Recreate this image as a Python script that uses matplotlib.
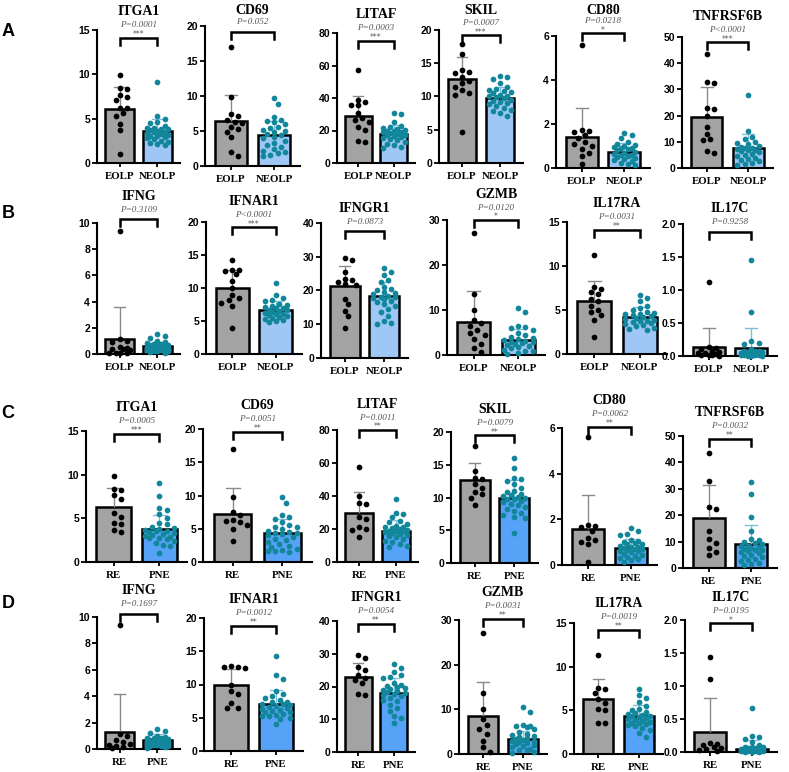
import matplotlib
matplotlib.use("Agg")
import matplotlib.pyplot as plt
import numpy as np

# ---------------- data ----------------
rowA_genes = ["ITGA1", "CD69", "LITAF", "SKIL", "CD80", "TNFRSF6B"]
rowB_genes = ["IFNG", "IFNAR1", "IFNGR1", "GZMB", "IL17RA", "IL17C"]
rowC_genes = rowA_genes
rowD_genes = rowB_genes

rowAB_groups = ["EOLP", "NEOLP"]
rowCD_groups = ["RE", "PNE"]

rowA_p = ["P=0.0001", "P=0.052", "P=0.0003", "P=0.0007", "P=0.0218", "P<0.0001"]
rowA_stars = ["***", "", "***", "***", "*", "***"]
rowB_p = ["P=0.3109", "P<0.0001", "P=0.0873", "P=0.0120", "P=0.0031", "P=0.9258"]
rowB_stars = ["", "***", "", "*", "**", ""]
rowC_p = ["P=0.0005", "P=0.0051", "P=0.0011", "P=0.0079", "P=0.0062", "P=0.0032"]
rowC_stars = ["***", "**", "**", "**", "**", "**"]
rowD_p = ["P=0.1697", "P=0.0012", "P=0.0054", "P=0.0031", "P=0.0019", "P=0.0195"]
rowD_stars = ["", "**", "**", "**", "**", "*"]

rowAC_ymax = [15, 20, 80, 20, 6, 50]
rowAC_ystep = [5, 5, 20, 5, 2, 10]
rowBD_ymax = [10, 20, 40, 30, 15, 2.0]
rowBD_ystep = [2, 5, 10, 10, 5, 0.5]

rowA_mean1 = [6.1, 6.4, 29.0, 12.7, 1.41, 19.6]
rowA_sd1 = [2.45, 3.8, 12.4, 3.2, 1.34, 11.4]
rowA_mean2 = [3.65, 4.4, 18.0, 9.75, 0.72, 7.7]
rowA_sd2 = [1.3, 2.0, 5.5, 1.75, 0.41, 5.2]

rowB_mean1 = [1.11, 10.0, 21.3, 7.4, 6.0, 0.13]
rowB_sd1 = [2.51, 2.8, 5.9, 6.9, 2.3, 0.30]
rowB_mean2 = [0.58, 6.7, 18.5, 3.4, 4.25, 0.12]
rowB_sd2 = [0.37, 1.4, 4.1, 2.4, 1.05, 0.30]

rowC_mean1 = [6.27, 7.2, 29.6, 12.6, 1.58, 19.1]
rowC_sd1 = [2.23, 3.9, 12.7, 2.6, 1.49, 12.5]
rowC_mean2 = [3.76, 4.38, 18.5, 9.9, 0.73, 9.2]
rowC_sd2 = [1.64, 2.12, 7.0, 2.7, 0.40, 7.2]

rowD_mean1 = [1.31, 9.95, 23.0, 8.4, 6.34, 0.30]
rowD_sd1 = [2.89, 2.45, 4.3, 7.8, 2.26, 0.52]
rowD_mean2 = [0.68, 7.08, 18.1, 3.4, 4.3, 0.05]
rowD_sd2 = [0.42, 2.12, 4.6, 1.8, 1.35, 0.13]

rowA_pts1 = [
    [9.9, 8.5, 8.3, 7.7, 7.4, 7.1, 6.2, 6.2, 5.6, 5.3, 4.4, 3.7, 1.0],
    [17.0, 9.8, 7.4, 7.1, 6.6, 6.3, 6.1, 5.6, 5.3, 4.9, 4.2, 2.0, 1.5],
    [57.5, 38.7, 37.5, 36.0, 35.5, 31.0, 28.0, 26.5, 25.5, 22.0, 20.5, 13.5, 13.0],
    [17.9, 16.4, 14.0, 13.7, 13.5, 13.0, 12.4, 12.0, 11.5, 11.0, 10.5, 10.3, 4.6],
    [5.6, 1.75, 1.7, 1.65, 1.5, 1.35, 1.2, 1.1, 1.0, 0.85, 0.7, 0.55, 0.2],
    [43.5, 33.0, 32.5, 23.0, 22.5, 20.0, 15.5, 13.0, 11.0, 10.5, 6.5, 5.8],
]
rowA_pts2 = [
    [9.1, 5.3, 5.0, 4.6, 4.5, 4.2, 4.0, 3.9, 3.8, 3.8, 3.7, 3.6, 3.5, 3.5, 3.4, 3.3, 3.2, 3.1, 3.0, 2.9, 2.8, 2.7, 2.5, 2.4, 2.2, 2.1, 2.0],
    [9.7, 8.9, 7.0, 6.6, 6.5, 6.3, 6.0, 5.6, 5.4, 5.2, 5.0, 4.9, 4.6, 4.4, 4.2, 4.0, 3.6, 3.3, 3.0, 2.7, 2.4, 2.2, 2.0, 1.8, 1.6, 1.5],
    [30.5, 30.0, 25.0, 23.0, 22.0, 21.5, 21.0, 20.5, 20.0, 19.5, 19.0, 18.8, 18.5, 18.0, 17.5, 17.0, 16.5, 16.0, 15.5, 15.0, 14.0, 13.0, 12.0, 11.0, 10.0, 9.0],
    [13.1, 13.0, 12.6, 12.0, 11.5, 11.2, 11.0, 10.8, 10.7, 10.5, 10.3, 10.1, 10.0, 9.9, 9.7, 9.5, 9.3, 9.2, 9.0, 8.8, 8.6, 8.3, 8.0, 7.8, 7.5, 7.0],
    [1.6, 1.5, 1.35, 1.2, 1.1, 1.05, 1.0, 0.95, 0.9, 0.9, 0.85, 0.8, 0.75, 0.7, 0.65, 0.6, 0.6, 0.55, 0.5, 0.45, 0.4, 0.35, 0.3, 0.25, 0.2, 0.15],
    [27.8, 14.0, 12.0, 11.0, 10.0, 9.5, 9.0, 8.5, 8.0, 7.8, 7.5, 7.2, 7.0, 6.8, 6.5, 6.0, 5.5, 5.0, 4.5, 4.0, 3.5, 3.0, 2.5, 2.0, 1.5, 1.0],
]
rowB_pts1 = [
    [9.4, 1.15, 1.0, 0.95, 0.5, 0.45, 0.4, 0.35, 0.3, 0.1, 0.1, 0.05, 0.05],
    [14.3, 12.8, 12.7, 12.6, 12.1, 11.0, 10.0, 9.0, 8.5, 8.2, 7.8, 7.2, 4.0],
    [29.5, 28.9, 25.5, 23.5, 23.0, 22.5, 22.0, 21.5, 17.5, 16.0, 14.0, 12.5, 9.0],
    [27.2, 13.6, 10.0, 7.8, 7.2, 6.5, 5.5, 5.0, 4.5, 3.5, 2.5, 1.5, 0.7],
    [11.3, 7.6, 7.4, 7.0, 6.8, 6.3, 6.0, 5.5, 5.0, 4.8, 4.4, 3.9, 1.9],
    [1.12, 0.13, 0.12, 0.1, 0.08, 0.06, 0.05, 0.04, 0.03, 0.02, 0.02, 0.01, 0.0],
]
rowB_pts2 = [
    [1.55, 1.4, 1.2, 1.0, 0.9, 0.85, 0.8, 0.75, 0.7, 0.65, 0.6, 0.6, 0.55, 0.5, 0.5, 0.45, 0.4, 0.4, 0.35, 0.3, 0.3, 0.25, 0.2, 0.2, 0.15, 0.1],
    [10.8, 9.0, 8.5, 8.2, 8.0, 7.6, 7.4, 7.3, 7.1, 7.0, 6.9, 6.7, 6.6, 6.5, 6.3, 6.2, 6.1, 6.0, 5.9, 5.8, 5.6, 5.4, 5.3, 5.2, 5.0, 4.8],
    [26.8, 25.5, 24.5, 23.0, 22.5, 21.0, 20.5, 20.0, 19.5, 19.2, 19.0, 18.5, 18.2, 18.0, 17.8, 17.5, 17.0, 16.5, 16.0, 15.5, 14.5, 13.5, 12.5, 11.0, 10.5, 10.2],
    [10.5, 9.5, 6.5, 6.3, 6.0, 5.5, 5.0, 4.5, 4.0, 3.8, 3.5, 3.3, 3.2, 3.0, 2.8, 2.7, 2.5, 2.2, 2.0, 1.8, 1.5, 1.2, 1.0, 0.8, 0.5, 0.3],
    [6.7, 6.4, 6.0, 5.5, 5.2, 5.0, 4.8, 4.7, 4.6, 4.5, 4.4, 4.3, 4.2, 4.1, 4.0, 3.9, 3.8, 3.7, 3.6, 3.5, 3.4, 3.3, 3.2, 3.0, 2.8, 2.7],
    [1.45, 0.66, 0.22, 0.2, 0.18, 0.1, 0.08, 0.08, 0.07, 0.06, 0.06, 0.05, 0.05, 0.04, 0.04, 0.03, 0.03, 0.02, 0.02, 0.02, 0.01, 0.01, 0.01, 0.0, 0.0, 0.0],
]
rowC_pts1 = [
    [9.9, 8.4, 8.3, 7.7, 7.2, 5.6, 5.1, 4.5, 4.3, 3.7, 3.4],
    [17.0, 9.8, 7.5, 7.0, 6.3, 6.2, 6.0, 5.5, 5.0, 3.2],
    [57.5, 40.0, 35.5, 35.0, 27.0, 26.0, 21.0, 20.0, 19.5, 15.0],
    [17.8, 14.1, 13.0, 12.8, 12.0, 11.5, 10.8, 10.5, 10.0, 8.8],
    [5.6, 1.75, 1.7, 1.65, 1.5, 1.2, 1.1, 1.0, 0.9, 0.15],
    [43.5, 33.0, 23.0, 22.5, 14.0, 11.0, 9.5, 7.5, 6.0, 4.8],
]
rowC_pts2 = [
    [9.1, 7.6, 6.2, 6.0, 5.5, 5.0, 4.5, 4.3, 4.0, 3.9, 3.8, 3.7, 3.6, 3.5, 3.4, 3.3, 3.2, 3.1, 3.0, 2.9, 2.8, 2.7, 2.6, 2.4, 2.2, 2.0, 1.8, 1.0],
    [9.7, 8.9, 7.0, 6.7, 6.5, 6.0, 5.6, 5.3, 5.2, 5.0, 4.7, 4.5, 4.4, 4.3, 4.2, 4.0, 3.7, 3.5, 3.3, 3.0, 2.7, 2.4, 2.2, 2.0, 1.8, 1.7, 1.6, 1.5],
    [38.0, 30.0, 29.0, 27.0, 25.0, 24.0, 23.0, 22.0, 21.5, 21.0, 20.5, 20.0, 19.5, 19.0, 18.8, 18.5, 18.0, 17.5, 17.0, 16.5, 16.0, 15.0, 14.0, 13.0, 12.0, 11.0, 10.0, 9.0],
    [16.0, 14.5, 13.0, 12.8, 12.5, 12.0, 11.5, 11.0, 10.8, 10.5, 10.4, 10.2, 10.1, 10.0, 9.8, 9.7, 9.5, 9.3, 9.0, 8.8, 8.5, 8.2, 8.0, 7.7, 7.4, 7.0, 6.8, 4.6],
    [1.6, 1.5, 1.35, 1.3, 1.1, 1.05, 1.0, 0.95, 0.9, 0.9, 0.85, 0.8, 0.8, 0.75, 0.7, 0.7, 0.65, 0.6, 0.6, 0.55, 0.5, 0.45, 0.4, 0.35, 0.3, 0.25, 0.2, 0.15],
    [32.5, 28.0, 19.5, 14.0, 11.0, 10.5, 10.0, 9.5, 9.0, 8.5, 8.2, 8.0, 7.5, 7.2, 7.0, 6.8, 6.5, 6.0, 5.5, 5.0, 4.5, 4.0, 3.5, 3.0, 2.5, 2.0, 1.5, 1.0],
]
rowD_pts1 = [
    [9.4, 1.1, 1.0, 0.65, 0.5, 0.35, 0.3, 0.2, 0.15, 0.1],
    [12.8, 12.7, 12.6, 12.5, 10.0, 9.0, 8.5, 7.2, 6.5, 6.4],
    [29.5, 28.8, 26.0, 25.0, 23.5, 22.5, 22.0, 21.0, 17.8, 17.5],
    [27.2, 13.6, 10.0, 7.8, 6.5, 5.5, 4.5, 3.0, 1.5, 0.5],
    [11.3, 7.6, 7.4, 7.0, 6.3, 5.8, 5.2, 5.0, 3.6, 3.6],
    [1.44, 1.11, 0.13, 0.12, 0.1, 0.08, 0.06, 0.05, 0.03, 0.02],
]
rowD_pts2 = [
    [1.55, 1.4, 1.2, 1.0, 0.9, 0.85, 0.8, 0.8, 0.75, 0.7, 0.7, 0.65, 0.6, 0.6, 0.55, 0.5, 0.5, 0.45, 0.4, 0.4, 0.35, 0.3, 0.3, 0.25, 0.2, 0.2, 0.15, 0.1],
    [14.3, 11.4, 10.8, 9.0, 8.5, 8.2, 8.0, 7.6, 7.4, 7.3, 7.1, 7.0, 6.9, 6.7, 6.6, 6.5, 6.3, 6.1, 6.0, 5.9, 5.8, 5.6, 5.4, 5.3, 5.2, 5.0, 4.8, 4.0],
    [26.8, 25.5, 24.5, 23.5, 23.0, 22.5, 21.0, 20.5, 20.2, 20.0, 19.5, 19.2, 19.0, 18.5, 18.2, 18.0, 17.8, 17.5, 17.0, 16.5, 16.0, 15.5, 14.5, 13.5, 12.5, 11.0, 10.5, 9.0],
    [10.5, 9.5, 6.5, 6.3, 6.2, 6.0, 5.5, 5.0, 4.5, 4.2, 4.0, 3.8, 3.5, 3.3, 3.2, 3.0, 2.8, 2.7, 2.5, 2.2, 2.0, 1.8, 1.5, 1.2, 1.0, 0.8, 0.5, 0.3],
    [7.5, 6.7, 6.4, 6.0, 5.5, 5.2, 5.0, 4.8, 4.7, 4.6, 4.5, 4.4, 4.3, 4.2, 4.1, 4.0, 3.9, 3.8, 3.7, 3.6, 3.5, 3.4, 3.3, 3.2, 3.0, 2.8, 2.4, 1.9],
    [0.66, 0.24, 0.22, 0.2, 0.15, 0.1, 0.08, 0.08, 0.07, 0.06, 0.06, 0.05, 0.05, 0.04, 0.04, 0.03, 0.03, 0.03, 0.02, 0.02, 0.02, 0.02, 0.01, 0.01, 0.01, 0.0, 0.0, 0.0],
]

# ---------------- layout (pixels: x0, x1, ytop, ybottom) ----------------
W, H = 789, 772
boxes = [
    [(97, 180, 30, 163), (205, 300, 26, 166), (337, 415, 33, 163), (439, 523, 30, 163), (556, 650, 36, 168), (682, 773, 37, 168)],
    [(97, 180, 223, 354), (206, 302, 222, 354), (321, 408, 223, 358), (447, 545, 220, 355), (567, 667, 222, 354), (683, 777, 224, 356)],
    [(86, 187, 431, 562), (203, 312, 429, 562), (337, 418, 430, 562), (451, 538, 432, 563), (562, 657, 428, 565), (683, 777, 436, 568)],
    [(97, 180, 617, 749), (204, 303, 618, 751), (337, 415, 621, 752), (459, 547, 620, 754), (574, 663, 623, 754), (685, 777, 620, 752)],
]
bracket_frac = [
    [0.94, 0.96, 0.94, 0.96, 1.02, 0.96],
    [1.03, 0.96, 0.94, 1.0, 0.94, 0.94],
    [0.98, 0.98, 1.0, 0.975, 1.01, 0.98],
    [1.025, 0.94, 0.98, 1.01, 0.95, 0.975],
]
letters = [("A", 31), ("B", 213), ("C", 414), ("D", 603)]

GRAY = "#a3a3a3"
BLUE_AB = "#9fc7f5"
BLUE_CD = "#55a2f6"
TEAL = "#12879c"
ERR1 = "#8a8a8a"
ERR2 = "#7cc0dd"
PCOL = "#555555"

rows = [
    (rowA_genes, rowAB_groups, rowA_p, rowA_stars, rowAC_ymax, rowAC_ystep, rowA_mean1, rowA_sd1, rowA_mean2, rowA_sd2, rowA_pts1, rowA_pts2, BLUE_AB),
    (rowB_genes, rowAB_groups, rowB_p, rowB_stars, rowBD_ymax, rowBD_ystep, rowB_mean1, rowB_sd1, rowB_mean2, rowB_sd2, rowB_pts1, rowB_pts2, BLUE_AB),
    (rowC_genes, rowCD_groups, rowC_p, rowC_stars, rowAC_ymax, rowAC_ystep, rowC_mean1, rowC_sd1, rowC_mean2, rowC_sd2, rowC_pts1, rowC_pts2, BLUE_CD),
    (rowD_genes, rowCD_groups, rowD_p, rowD_stars, rowBD_ymax, rowBD_ystep, rowD_mean1, rowD_sd1, rowD_mean2, rowD_sd2, rowD_pts1, rowD_pts2, BLUE_CD),
]

XLIM = (-0.6, 1.6)
BARW = 0.75


def swarm_offsets(vals, ymax, h_px, pxpu, d=6.0, maxhalf_px=14):
    """Deterministic beeswarm-like horizontal offsets (in data units)."""
    vals = np.asarray(vals, float)
    ys = vals / ymax * h_px
    order = np.argsort(-ys)
    placed = []
    offs = np.zeros(len(vals))
    step = d * 0.6
    for i in order:
        best, best_score = 0.0, -1
        for k in range(0, 40):
            cand = 0.0 if k == 0 else ((k + 1) // 2) * step * (1 if k % 2 else -1)
            if abs(cand) > maxhalf_px:
                break
            if placed:
                md = min(np.hypot(cand - ox, ys[i] - oy) for ox, oy in placed)
            else:
                md = 1e9
            if md >= d:
                best = cand
                best_score = md
                break
            if md > best_score:
                best_score = md
                best = cand
        placed.append((best, ys[i]))
        offs[i] = best / pxpu
    return offs


fig = plt.figure(figsize=(W / 100, H / 100), dpi=100)

for r, row in enumerate(rows):
    genes, groups, pvals, stars, ymaxs, ysteps, m1s, s1s, m2s, s2s, p1s, p2s, blue = row
    for j in range(6):
        x0, x1, yt, yb = boxes[r][j]
        ax = fig.add_axes([x0 / W, 1 - yb / H, (x1 - x0) / W, (yb - yt) / H])
        ymax = ymaxs[j]
        ax.set_xlim(*XLIM)
        ax.set_ylim(0, ymax)
        h_px = yb - yt
        pxpu = (x1 - x0) / (XLIM[1] - XLIM[0])

        means = [m1s[j], m2s[j]]
        sds = [s1s[j], s2s[j]]
        ax.bar([0, 1], means, width=BARW, color=[GRAY, blue], edgecolor="black",
               linewidth=1.8, zorder=2)
        # error bars (upper only)
        for xi, (m, s, c) in enumerate(zip(means, sds, [ERR1, ERR2])):
            ax.plot([xi, xi], [m, m + s], color=c, lw=1.0, zorder=3, solid_capstyle="butt")
            ax.plot([xi - 0.14, xi + 0.14], [m + s, m + s], color=c, lw=1.0, zorder=3)
        # points
        for xi, (pts, c) in enumerate(zip([p1s[j], p2s[j]], ["black", TEAL])):
            offs = swarm_offsets(pts, ymax, h_px, pxpu, maxhalf_px=BARW / 2 * pxpu - 2)
            ax.scatter(xi + offs, pts, s=17, color=c, zorder=4, clip_on=False, linewidths=0)

        # axes styling
        for sp in ["top", "right"]:
            ax.spines[sp].set_visible(False)
        for sp in ["left", "bottom"]:
            ax.spines[sp].set_linewidth(1.5)
        ticks = np.arange(0, ymax + 1e-9, ysteps[j])
        ax.set_yticks(ticks)
        if ymax <= 2:
            ax.set_yticklabels([f"{t:.1f}" for t in ticks])
        else:
            ax.set_yticklabels([f"{t:g}" for t in ticks])
        for lab in ax.get_yticklabels():
            lab.set_fontfamily("Liberation Sans")
            lab.set_fontweight("bold")
            lab.set_fontsize(7.5)
        ax.set_xticks([0, 1])
        ax.set_xticklabels(groups, fontfamily="Liberation Serif", fontweight="bold", fontsize=7.8)
        ax.tick_params(axis="y", length=3.5, width=1.3, pad=1.5)
        ax.tick_params(axis="x", length=3, width=1.3, pad=3.5)

        # bracket
        by = bracket_frac[r][j] * ymax
        leg = 7.0 / h_px * ymax
        ax.plot([0, 0, 1, 1], [by - leg, by, by, by - leg], color="black", lw=1.8,
                clip_on=False, zorder=5, solid_joinstyle="miter")

        # texts above the bracket, positioned in figure pixels
        bp = yb - by / ymax * h_px          # bracket pixel y (from top)
        cx = x0 + pxpu * (0.5 - XLIM[0])    # centre between bars (pixels)
        has_star = stars[j] != ""
        if has_star:
            fig.text(cx / W, 1 - (bp - 3.0) / H, stars[j], ha="center", va="center",
                     fontsize=5.5, color=PCOL, fontfamily="DejaVu Sans")
            p_y = bp - 12.5
            t_y = bp - 26.0
        else:
            p_y = bp - 9.5
            t_y = bp - 23.0
        t_y = max(t_y, 11.0)
        fig.text(cx / W, 1 - p_y / H, pvals[j], ha="center", va="center", fontsize=6.6,
                 color=PCOL, style="italic", fontfamily="Liberation Serif")
        fig.text(cx / W, 1 - t_y / H, genes[j], ha="center", va="center", fontsize=10,
                 fontweight="bold", fontfamily="Liberation Serif")

for lab, y in letters:
    fig.text(8 / W, 1 - y / H, lab, fontsize=13, fontweight="bold", fontfamily="Liberation Sans",
             ha="center", va="center")

fig.savefig("out.png", dpi=100)
